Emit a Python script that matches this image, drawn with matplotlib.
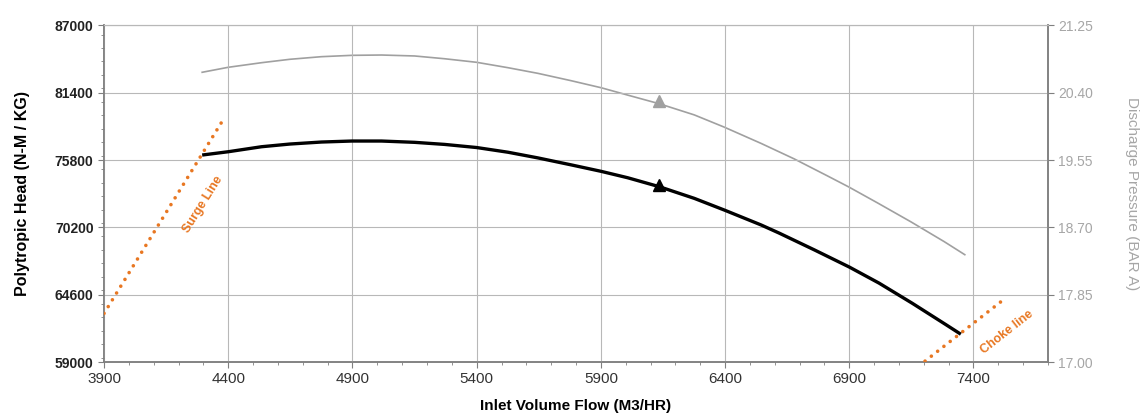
import numpy as np
import matplotlib.pyplot as plt
from matplotlib.ticker import MultipleLocator

plt.rcParams["font.family"] = ["Liberation Sans", "DejaVu Sans"]

# -----------------------------
# Data
# -----------------------------
# Polytropic head curve (left axis)
flow_head = [4295, 4400, 4534, 4648, 4775, 4898, 5017, 5150, 5271, 5400, 5526, 5646, 5780, 5901,
             6008, 6136, 6276, 6397, 6545, 6618, 6760, 6900, 7020, 7154, 7288, 7349]
head = [76216, 76491, 76907, 77131, 77298, 77381, 77381, 77273, 77100, 76840, 76450, 75980, 75400, 74860,
        74327, 73578, 72613, 71640, 70400, 69720, 68320, 66900, 65560, 63880, 62120, 61310]

# Discharge pressure curve (right axis)
flow_press = [4295, 4400, 4534, 4648, 4775, 4898, 5017, 5150, 5271, 5400, 5526, 5646, 5780, 5901,
              6008, 6136, 6276, 6397, 6545, 6678, 6812, 6898, 7013, 7148, 7282, 7365]
pressure = [20.658, 20.721, 20.779, 20.822, 20.855, 20.872, 20.876, 20.864, 20.829, 20.784, 20.716,
            20.645, 20.552, 20.463, 20.37, 20.26, 20.12, 19.965, 19.76, 19.565, 19.35, 19.21,
            19.01, 18.77, 18.52, 18.355]

# operating point
op_flow = 6136
op_head = 73720
op_pressure = 20.29

surge_x = [3900, 4383]
surge_y = [63043, 79270]
choke_x = [7205, 7510]
choke_y = [59075, 64009]

x_ticks = [3900, 4400, 4900, 5400, 5900, 6400, 6900, 7400]
head_ticks = [59000, 64600, 70200, 75800, 81400, 87000]
press_ticks = [17.00, 17.85, 18.70, 19.55, 20.40, 21.25]

ORANGE = "#E87722"
GRAY = "#a0a0a0"
GRID = "#b8b8b8"
SPINE = "#7f7f7f"
NARROW = ["Liberation Sans Narrow", "Liberation Sans", "DejaVu Sans"]

fig = plt.figure(figsize=(11.42, 4.15), dpi=100)
ax = fig.add_axes([0.0911, 0.1277, 0.8266, 0.8111])
ax2 = ax.twinx()

ax.set_xlim(3900, 7700)
ax.set_ylim(59000, 87000)
ax2.set_ylim(17.00, 21.25)

ax.set_xticks(x_ticks)
ax.set_yticks(head_ticks)
ax2.set_yticks(press_ticks)
ax.xaxis.set_minor_locator(MultipleLocator(100))
ax.yaxis.set_minor_locator(MultipleLocator(1120))

ax.grid(True, which="major", color=GRID, lw=0.8)

for sp in ["left", "bottom", "right"]:
    ax.spines[sp].set_color(SPINE)
    ax2.spines[sp].set_color(SPINE)
    ax.spines[sp].set_linewidth(1.1)
    ax2.spines[sp].set_linewidth(1.1)
ax.spines["top"].set_color(GRID)
ax2.spines["top"].set_color(GRID)

ax.tick_params(axis="both", which="major", direction="out", length=4, color=SPINE)
ax.tick_params(axis="both", which="minor", direction="out", length=2.5, color=SPINE)
ax2.tick_params(axis="y", direction="out", length=4, color=SPINE, labelcolor="#a6a6a6")

ax.set_xticklabels([str(v) for v in x_ticks], family=NARROW, fontsize=11, color="#333333")
ax.set_yticklabels([str(v) for v in head_ticks], fontsize=10, fontweight="bold", color="#222222")
ax2.set_yticklabels([f"{v:.2f}" for v in press_ticks], fontsize=10, color="#a6a6a6")

# curves
ax2.plot(flow_press, pressure, color=GRAY, lw=1.2, zorder=3)
ax2.plot(op_flow, op_pressure, marker="^", color=GRAY, ms=9, zorder=3)
ax.plot(flow_head, head, color="black", lw=2.4, solid_capstyle="butt", solid_joinstyle="round", zorder=4)
ax.plot(op_flow, op_head, marker="^", color="black", ms=9, zorder=5)

# surge / choke lines
dots = (0, (0.01, 2.2))
ax.plot(surge_x, surge_y, color=ORANGE, lw=2.6, ls=dots, dash_capstyle="round", zorder=3)
ax.plot(choke_x, choke_y, color=ORANGE, lw=2.6, ls=dots, dash_capstyle="round", zorder=3)
ax.text(4298, 72139, "Surge Line", color=ORANGE, fontsize=9, fontweight="bold",
        rotation=58, ha="center", va="center")
ax.text(7535, 61488, "Choke line", color=ORANGE, fontsize=9, fontweight="bold",
        rotation=38, ha="center", va="center")

ax.set_xlabel("Inlet Volume Flow (M3/HR)", fontsize=11, fontweight="bold", family=NARROW, labelpad=9)
ax.set_ylabel("Polytropic Head (N-M / KG)", fontsize=11.5, fontweight="bold", labelpad=18)
ax2.set_ylabel("Discharge Pressure (BAR A)", fontsize=11, color="#a6a6a6", rotation=270, labelpad=33)

ax.set_zorder(ax2.get_zorder() + 1)
ax.patch.set_visible(False)

fig.savefig("out.png", dpi=100)
